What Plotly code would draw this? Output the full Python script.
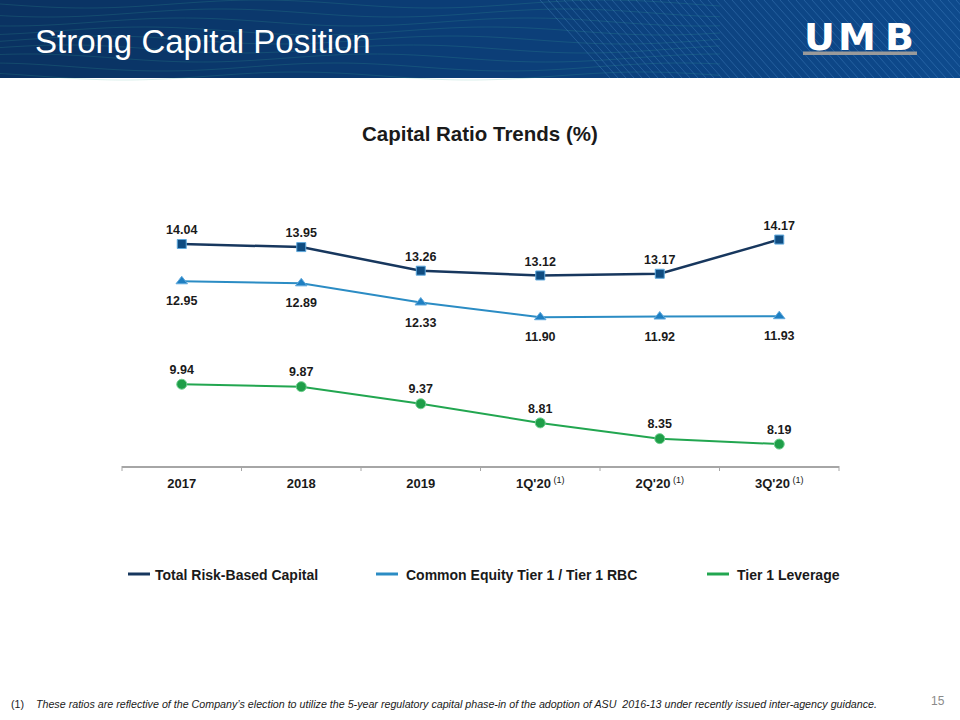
import math
import plotly.graph_objects as go

categories = ["2017", "2018", "2019", "1Q'20", "2Q'20", "3Q'20"]
tick_labels = ["<b>2017</b>", "<b>2018</b>", "<b>2019</b>", "<b>1Q'20</b><sup> (1)</sup>",
               "<b>2Q'20</b><sup> (1)</sup>", "<b>3Q'20</b><sup> (1)</sup>"]
total_rbc = [14.04, 13.95, 13.26, 13.12, 13.17, 14.17]
cet1 = [12.95, 12.89, 12.33, 11.90, 11.92, 11.93]
leverage = [9.94, 9.87, 9.37, 8.81, 8.35, 8.19]

NAVY = "#17375E"
LBLUE = "#2B8CC4"
GREEN = "#22A650"
FONT = "Liberation Sans, Arial, sans-serif"

# pixel -> paper helpers (plot area x 122..839, y 190..466)
PX0, PX1, PY0, PY1 = 122, 839, 190, 466
def px(x):
    return (x - PX0) / (PX1 - PX0)
def py(y):
    return (PY1 - y) / (PY1 - PY0)

fig = go.Figure()
fig.add_trace(go.Scatter(
    x=categories, y=total_rbc, mode="lines+markers+text",
    line=dict(color=NAVY, width=2.5),
    marker=dict(symbol="square", size=9, color="#0F4C81", line=dict(color="#5FA9DD", width=1)),
    text=[f"{v:.2f}" for v in total_rbc], textposition="top center",
    textfont=dict(family=FONT, size=12.5, color="#1a1a1a"),
    texttemplate="<b>%{text}</b>", showlegend=False, cliponaxis=False))
fig.add_trace(go.Scatter(
    x=categories, y=cet1, mode="lines+markers",
    line=dict(color=LBLUE, width=2),
    marker=dict(symbol="triangle-up", size=10, color="#1F7FC1", line=dict(color="#5FA9DD", width=1)),
    showlegend=False, cliponaxis=False))
fig.add_trace(go.Scatter(
    x=categories, y=cet1, mode="markers+text",
    marker=dict(size=22, opacity=0),
    text=[f"{v:.2f}" for v in cet1], textposition="bottom center",
    textfont=dict(family=FONT, size=12.5, color="#1a1a1a"),
    texttemplate="<b>%{text}</b>", showlegend=False, cliponaxis=False, hoverinfo="skip"))
fig.add_trace(go.Scatter(
    x=categories, y=leverage, mode="lines+markers+text",
    line=dict(color=GREEN, width=2),
    marker=dict(symbol="circle", size=10, color="#1E9E48", line=dict(color="#6FCF8F", width=1)),
    text=[f"{v:.2f}" for v in leverage], textposition="top center",
    textfont=dict(family=FONT, size=12.5, color="#1a1a1a"),
    texttemplate="<b>%{text}</b>", showlegend=False, cliponaxis=False))

y_bottom = 7.55
y_top = 14.04 + (244 - PY0) / 34.2

shapes = []
# header gradient background
nb = 24
for i in range(nb):
    t = i / (nb - 1)
    r = int(10 + (14 - 10) * t)
    g = int(50 + (74 - 50) * t)
    b = int(98 + (140 - 98) * t)
    shapes.append(dict(type="rect", xref="paper", yref="paper",
                       x0=px(960 * i / nb), x1=px(960 * (i + 1) / nb + 1),
                       y0=py(78), y1=py(0), fillcolor=f"rgb({r},{g},{b})",
                       line=dict(width=0), layer="below"))
# wavy lines on left
for k in range(9):
    base = 4 + k * 9
    pts = []
    for s in range(0, 121):
        x = s * 6
        y = base + 4 * math.sin(x / 55.0 + k * 0.7)
        pts.append((px(x), py(y)))
    path = "M " + " L ".join(f"{a:.5f},{b:.5f}" for a, b in pts)
    shapes.append(dict(type="path", xref="paper", yref="paper", path=path,
                       line=dict(color="rgba(60,170,150,0.2)", width=1), layer="below"))
# diagonal stripes on right
for i in range(60):
    x0 = 540 + i * 8
    shapes.append(dict(type="line", xref="paper", yref="paper",
                       x0=px(x0), x1=px(x0 + 70),
                       y0=py(0), y1=py(78),
                       line=dict(color="rgba(100,165,225,0.28)", width=1), layer="below"))
# logo underline bar
shapes.append(dict(type="rect", xref="paper", yref="paper", x0=px(803), x1=px(917),
                   y0=py(55), y1=py(51.5), fillcolor="#9A9A9A", line=dict(width=0)))

annotations = [
    dict(text="Strong Capital Position", xref="paper", yref="paper",
         x=px(33), y=py(41), xanchor="left", yanchor="middle", showarrow=False,
         font=dict(family=FONT, size=33, color="white")),
    dict(text="<b>Capital Ratio Trends (%)</b>", xref="paper", yref="paper",
         x=px(480), y=py(133), xanchor="center", yanchor="middle", showarrow=False,
         font=dict(family=FONT, size=20.5, color="#1a1a1a")),
    dict(text="(1)    <i>These ratios are reflective of the Company’s election to utilize the 5-year regulatory capital phase-in of the adoption of ASU  2016-13 under recently issued inter-agency guidance.</i>",
         xref="paper", yref="paper", x=px(9), y=py(704), xanchor="left", yanchor="middle",
         showarrow=False, font=dict(family=FONT, size=10.7, color="#1a1a1a")),
    dict(text="15", xref="paper", yref="paper", x=px(947), y=py(701),
         xanchor="right", yanchor="middle", showarrow=False,
         font=dict(family=FONT, size=12, color="#8a8a8a")),
]
# logo letters
for letter, cx in (("U", 819), ("M", 857), ("B", 899)):
    annotations.append(dict(text=f"<b>{letter}</b>", xref="paper", yref="paper",
                            x=px(cx), y=py(37), xanchor="center", yanchor="middle",
                            showarrow=False,
                            font=dict(family="DejaVu Sans, Arial Black, sans-serif", size=38, color="white")))

legend_items = [
    ("Total Risk-Based Capital", NAVY, 128, 150, 153),
    ("Common Equity Tier 1 / Tier 1 RBC", LBLUE, 376, 398, 404),
    ("Tier 1 Leverage", GREEN, 707, 729, 735),
]
for name, col, lx0, lx1, tx in legend_items:
    shapes.append(dict(type="line", xref="paper", yref="paper",
                       x0=px(lx0), x1=px(lx1), y0=py(574), y1=py(574),
                       line=dict(color=col, width=3)))
    annotations.append(dict(text=f"<b>{name}</b>", xref="paper", yref="paper",
                            x=px(tx), y=py(575), xanchor="left", yanchor="middle",
                            showarrow=False, font=dict(family=FONT, size=14, color="#1a1a1a")))

# category-boundary tick marks
for k in range(7):
    shapes.append(dict(type="line", xref="paper", yref="paper",
                       x0=k / 6, x1=k / 6, y0=-5 / 276, y1=0,
                       line=dict(color="#A6A6A6", width=1)))

fig.update_layout(
    width=960, height=720,
    margin=dict(l=PX0, r=960 - PX1, t=PY0, b=720 - PY1, pad=0),
    paper_bgcolor="white", plot_bgcolor="white",
    shapes=shapes, annotations=annotations,
    xaxis=dict(type="category", range=[-0.5, 5.5], tickmode="array",
               tickvals=categories, ticktext=tick_labels,
               showgrid=False, showline=True, linecolor="#A6A6A6", linewidth=1.5,
               ticks="outside", ticklen=5, tickcolor="rgba(0,0,0,0)", zeroline=False,
               tickfont=dict(family=FONT, size=13, color="#1a1a1a"),
               fixedrange=True),
    yaxis=dict(range=[y_bottom, y_top], visible=False, showgrid=False, zeroline=False),
    showlegend=False,
)

fig.write_html("out.html")
